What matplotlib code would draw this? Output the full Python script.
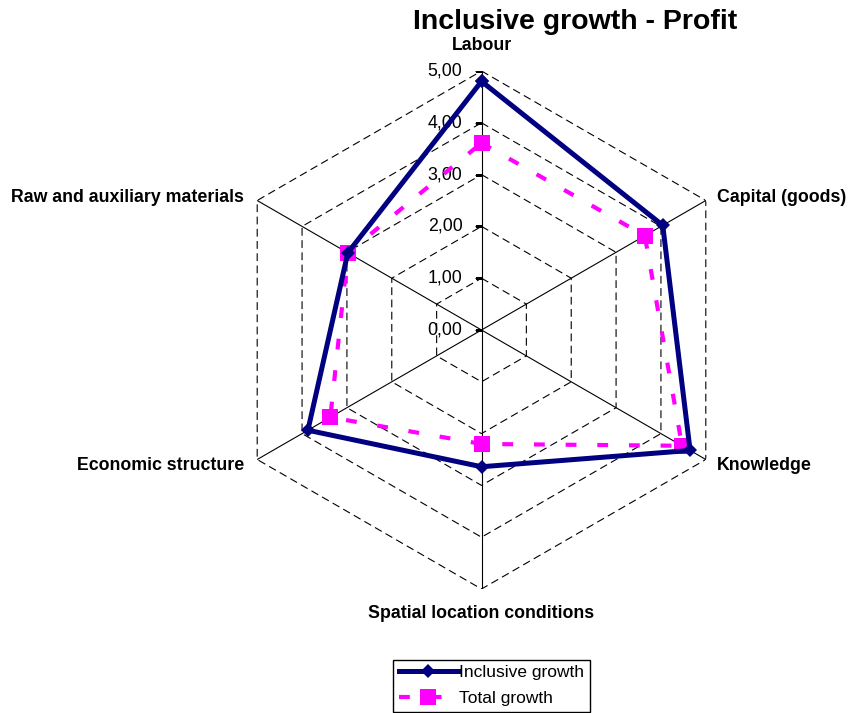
import numpy as np
import matplotlib.pyplot as plt

plt.rcParams['font.family'] = ['Liberation Sans', 'DejaVu Sans']

categories = ['Labour', 'Capital (goods)', 'Knowledge', 'Spatial location conditions',
              'Economic structure', 'Raw and auxiliary materials']
inclusive = [4.80, 4.04, 4.65, 2.64, 3.87, 2.98]
total = [3.61, 3.64, 4.47, 2.20, 3.37, 2.98]
levels = [0, 1, 2, 3, 4, 5]
level_labels = ['0,00', '1,00', '2,00', '3,00', '4,00', '5,00']

W, H = 851, 713
cx, cy, R = 481.5, 330, 259

fig = plt.figure(figsize=(W / 100, H / 100), dpi=100, facecolor='white')
ax = fig.add_axes([(cx - R) / W, (H - cy - R) / H, 2 * R / W, 2 * R / H], polar=True)
ax.set_theta_zero_location('N')
ax.set_theta_direction(-1)
ax.set_ylim(0, 5)
ax.grid(False)
ax.spines['polar'].set_visible(False)
ax.set_xticks([])
ax.set_yticks([])
ax.patch.set_alpha(0)

n = len(categories)
theta = np.linspace(0, 2 * np.pi, n, endpoint=False)
closed = np.append(theta, theta[0])

# hexagon grid rings + spokes
for lv in levels[1:]:
    ax.plot(closed, [lv] * (n + 1), color='black', lw=0.8, ls=(0, (7, 4)), zorder=1)
for t in theta:
    ax.plot([t, t], [0, 5], color='black', lw=0.8, zorder=1)

# ticks on the Labour axis
ax.plot([0] * len(levels), levels, ls='none', marker=0, ms=5, mew=0.8, color='black', zorder=2)
for lv, lab in zip(levels, level_labels):
    ax.annotate(lab, (0, lv), xytext=(-19, 0), textcoords='offset pixels',
                ha='right', va='center', fontsize=12.8, color='black')

ax.plot(closed, total + total[:1], color='#FF00FF', lw=3, ls=(0, (2.6, 5)),
        dash_capstyle='butt', marker='s', ms=11.5, mew=0, zorder=3, label='Total growth')
ax.plot(closed, inclusive + inclusive[:1], color='#000080', lw=3.6,
        marker='D', ms=7.5, mew=0, zorder=4, label='Inclusive growth')

offsets = [(0, 25, 'center'), (11, 3, 'left'), (11, -6, 'left'),
           (0, -25, 'center'), (-13, -6, 'right'), (-13, 3, 'right')]
for t, cat, (dx, dy, ha) in zip(theta, categories, offsets):
    ax.annotate(cat, (t, 5), xytext=(dx, dy), textcoords='offset pixels',
                ha=ha, va='center', fontsize=12.8, fontweight='bold')

fig.text(575 / W, 1 - 22 / H, 'Inclusive growth - Profit', ha='center', va='center',
         fontsize=20.5, fontweight='bold')

h, l = ax.get_legend_handles_labels()
leg = fig.legend(h[::-1], l[::-1], loc='lower center', bbox_to_anchor=(491.5 / W, 0.002),
                 fontsize=12.5, handlelength=3.4, handletextpad=0.1, labelspacing=0.62,
                 borderpad=0.3, borderaxespad=0, numpoints=1, fancybox=False,
                 edgecolor='black', framealpha=1)
leg.get_frame().set_linewidth(1)

plt.savefig('out.png', dpi=100, facecolor='white')
